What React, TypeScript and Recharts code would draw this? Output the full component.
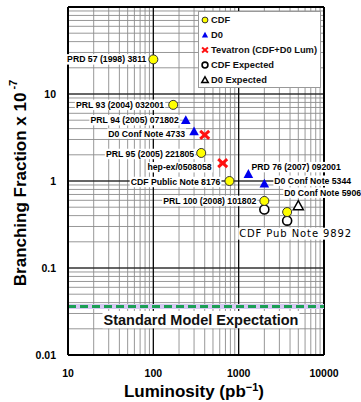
import React from "react";
import {
  ScatterChart, Scatter, XAxis, YAxis, CartesianGrid,
  ReferenceLine, Legend,
} from "recharts";

// luminosity in pb^-1, limits in units of 1e-7
const cdfLum = [100, 171, 364, 780, 2000, 3700];
const cdfLimit = [25, 7.5, 2.1, 1.0, 0.59, 0.44];
const cdfRefs = ["PRD 57 (1998) 3811", "PRL 93 (2004) 032001", "PRL 95 (2005) 221805", "CDF Public Note 8176", "PRL 100 (2008) 101802", ""];

const d0Lum = [240, 300, 1300, 2000];
const d0Limit = [5.0, 3.7, 1.2, 0.93];
const d0Refs = ["PRL 94 (2005) 071802", "D0 Conf Note 4733", "PRD 76 (2007) 092001", "D0 Conf Note 5344"];

const tevLum = [400, 650];
const tevLimit = [3.4, 1.6];
const tevRefs = ["", "hep-ex/0508058"];

const cdfExpLum = [2000, 3700];
const cdfExpLimit = [0.47, 0.35];
const cdfExpRefs = ["", "CDF Pub Note 9892"];

const d0ExpLum = [5000];
const d0ExpLimit = [0.52];
const d0ExpRefs = ["D0 Conf Note 5906"];

const smExpectation = 0.036;

const seriesNames = ["CDF", "D0", "Tevatron (CDF+D0 Lum)", "CDF Expected", "D0 Expected"];

const xDecades = [10, 100, 1000, 10000];
const xTickLabels = ["10", "100", "1000", "10000"];
const yDecades = [0.01, 0.1, 1, 10, 100];
const yTickLabels = ["0.01", "0.1", "1", "10", ""];

// label offsets from the marker: [dx, dy, anchor]
const notePlace: Record<string, [number, number, "start" | "end"]> = {
  "PRD 57 (1998) 3811": [-7, 0, "end"],
  "PRL 93 (2004) 032001": [-9, 0, "end"],
  "PRL 94 (2005) 071802": [-7, 0, "end"],
  "D0 Conf Note 4733": [-9, 2, "end"],
  "PRL 95 (2005) 221805": [-7, 1, "end"],
  "hep-ex/0508058": [-11, 4, "end"],
  "CDF Public Note 8176": [-9, 1, "end"],
  "PRD 76 (2007) 092001": [3, -7, "start"],
  "D0 Conf Note 5344": [10, -3, "start"],
  "D0 Conf Note 5906": [-14, -13, "start"],
  "PRL 100 (2008) 101802": [-8, 0, "end"],
  "CDF Pub Note 9892": [-48, 13, "start"],
};

const FONT = "'Liberation Sans', Arial, Helvetica, sans-serif";
const PLAIN_FONT = "'DejaVu Sans', Verdana, sans-serif";

let measureCtx: CanvasRenderingContext2D | null = null;
const textWidth = (text: string, font: string, spacing = 0) => {
  if (!measureCtx) measureCtx = document.createElement("canvas").getContext("2d");
  if (!measureCtx) return text.length * 5;
  measureCtx.font = font;
  return measureCtx.measureText(text).width + spacing * text.length;
};

const gridTicks = (lo: number, hi: number) => {
  const out: number[] = [];
  for (let e = lo; e < hi; e++) {
    for (let k = 1; k < 10; k++) out.push(Number((k * 10 ** e).toPrecision(3)));
  }
  out.push(10 ** hi);
  return out;
};
const xGrid = gridTicks(1, 4);
const yGrid = gridTicks(-2, 2);

const toRows = (lum: number[], lim: number[], refs: string[]) =>
  lum.map((l, i) => ({ lum: l, lim: lim[i], note: refs[i] }));

const cdfData = toRows(cdfLum, cdfLimit, cdfRefs);
const d0Data = toRows(d0Lum, d0Limit, d0Refs);
const tevData = toRows(tevLum, tevLimit, tevRefs);
const cdfExpData = toRows(cdfExpLum, cdfExpLimit, cdfExpRefs);
const d0ExpData = toRows(d0ExpLum, d0ExpLimit, d0ExpRefs);

// text with an opaque white box behind it
function BoxedText({
  x, y, text, anchor, size, weight, family, spacing = 0, fill = "#000",
}: {
  x: number; y: number; text: string; anchor: "start" | "middle" | "end";
  size: number; weight: number; family: string; spacing?: number; fill?: string;
}) {
  const w = textWidth(text, `${weight} ${size}px ${family}`, spacing);
  const left = anchor === "start" ? x : anchor === "end" ? x - w : x - w / 2;
  const h = size * 1.2;
  return (
    <g>
      <rect x={left - 1} y={y - h / 2} width={w + 2} height={h} fill="#fff" />
      <text
        x={x}
        y={y}
        textAnchor={anchor}
        dominantBaseline="central"
        style={{ fontFamily: family, fontSize: size, fontWeight: weight, letterSpacing: spacing, fill }}
      >
        {text}
      </text>
    </g>
  );
}

function Note({ cx, cy, note }: { cx: number; cy: number; note: string }) {
  if (!note) return null;
  const [dx, dy, anchor] = notePlace[note] ?? [8, 0, "start"];
  const plain = note === "CDF Pub Note 9892";
  return (
    <BoxedText
      x={cx + dx}
      y={cy + dy}
      text={note}
      anchor={anchor}
      size={plain ? 10 : 8.7}
      weight={plain ? 400 : 700}
      family={plain ? PLAIN_FONT : FONT}
      spacing={plain ? 0.9 : 0}
    />
  );
}

const marker = (kind: number, cx: number, cy: number, s = 1) => {
  if (kind === 0)
    return <circle cx={cx} cy={cy} r={4.5 * s} fill="#ffff00" stroke="#333" strokeWidth={1} />;
  if (kind === 1)
    return (
      <polygon
        points={`${cx},${cy - 5 * s} ${cx + 4.8 * s},${cy + 3.8 * s} ${cx - 4.8 * s},${cy + 3.8 * s}`}
        fill="#0000ee"
      />
    );
  if (kind === 2)
    return (
      <g stroke="#ff1010" strokeWidth={3 * s} strokeLinecap="butt">
        <line x1={cx - 4.5 * s} y1={cy - 4 * s} x2={cx + 4.5 * s} y2={cy + 4 * s} />
        <line x1={cx + 4.5 * s} y1={cy - 4 * s} x2={cx - 4.5 * s} y2={cy + 4 * s} />
      </g>
    );
  if (kind === 3)
    return <circle cx={cx} cy={cy} r={4.5 * s} fill="#fff" stroke="#000" strokeWidth={1.6} />;
  return (
    <polygon
      points={`${cx},${cy - 5 * s} ${cx + 5 * s},${cy + 4 * s} ${cx - 5 * s},${cy + 4 * s}`}
      fill="#fff"
      stroke="#000"
      strokeWidth={1.5}
    />
  );
};

const shapeFor = (kind: number) => (props: any) => {
  const { cx, cy, payload } = props;
  return (
    <g>
      {marker(kind, cx, cy)}
      <Note cx={cx} cy={cy} note={payload?.note ?? ""} />
    </g>
  );
};

const tickStyle = { fontSize: 10.5, fontWeight: 700, fill: "#000", fontFamily: FONT };

const yTitle = (props: any) => {
  const vb = props.viewBox ?? { x: 0, y: 7, width: 68, height: 348 };
  const cx = vb.x + 20;
  const cy = vb.y + vb.height / 2 + 2;
  return (
    <text
      x={cx}
      y={cy}
      transform={`rotate(-90 ${cx} ${cy})`}
      textAnchor="middle"
      dominantBaseline="central"
      style={{ fontFamily: FONT, fontSize: 17, fontWeight: 700, fill: "#000" }}
    >
      Branching Fraction x 10
      <tspan dx={3} dy={-7} style={{ fontSize: 11 }}>-7</tspan>
    </text>
  );
};

const xTitle = (props: any) => {
  const vb = props.viewBox ?? { x: 68, y: 355, width: 256, height: 47 };
  const x = vb.x + vb.width / 2 - 2;
  const y = vb.y + 42;
  return (
    <text x={x} y={y} textAnchor="middle" style={{ fontFamily: FONT, fontSize: 17, fontWeight: 700, fill: "#000" }}>
      Luminosity (pb
      <tspan dy={-6} style={{ fontSize: 11 }}>−1</tspan>
      <tspan dy={6}>)</tspan>
    </text>
  );
};

const smLabel = (props: any) => {
  const vb = props.viewBox ?? { x: 68, y: 306, width: 256 };
  return (
    <BoxedText
      x={vb.x + vb.width / 2 + 5}
      y={vb.y + 13}
      text="Standard Model Expectation"
      anchor="middle"
      size={14.5}
      weight={700}
      family={FONT}
      fill="#111"
    />
  );
};

const LegendBox = () => (
  <div
    style={{
      width: 121,
      height: 75,
      border: "1px solid #999",
      background: "#fff",
      fontFamily: FONT,
      fontSize: 9.3,
      fontWeight: 700,
      color: "#111",
      boxSizing: "content-box",
    }}
  >
    {seriesNames.map((name, i) => (
      <div key={name} style={{ height: 15, display: "flex", alignItems: "center", whiteSpace: "nowrap" }}>
        <svg width={10} height={10} style={{ marginLeft: 1 }}>
          {marker(i, 5, 5, 0.65)}
        </svg>
        <span style={{ marginLeft: 1 }}>{name}</span>
      </div>
    ))}
  </div>
);

export default function App() {
  return (
    <div style={{ position: "absolute", left: 0, top: 0, width: 361, height: 402, background: "#fff" }}>
      <ScatterChart width={361} height={402} margin={{ top: 7, right: 37, bottom: 0, left: 0 }}>
        <CartesianGrid stroke="#8c8c8c" strokeWidth={0.9} />
        <XAxis
          type="number"
          dataKey="lum"
          scale="log"
          domain={[10, 10000]}
          ticks={xGrid}
          interval={0}
          tickFormatter={(v: number) => {
            const i = xDecades.indexOf(v);
            return i >= 0 ? xTickLabels[i] : "";
          }}
          tick={tickStyle}
          tickLine={false}
          tickMargin={9}
          axisLine={{ stroke: "#000", strokeWidth: 2 }}
          height={47}
          label={xTitle}
        />
        <YAxis
          type="number"
          dataKey="lim"
          scale="log"
          domain={[0.01, 100]}
          ticks={yGrid}
          interval={0}
          tickFormatter={(v: number) => {
            const i = yDecades.indexOf(v);
            return i >= 0 ? yTickLabels[i] : "";
          }}
          tick={tickStyle}
          tickLine={false}
          tickMargin={6}
          axisLine={{ stroke: "#000", strokeWidth: 2 }}
          width={68}
          label={yTitle}
        />
        {xDecades.slice(1, 3).map((v) => (
          <ReferenceLine key={`x${v}`} x={v} stroke="#000" strokeWidth={1.2} />
        ))}
        {yDecades.slice(1, 4).map((v) => (
          <ReferenceLine key={`y${v}`} y={v} stroke="#000" strokeWidth={1.2} />
        ))}
        <ReferenceLine x={10000} stroke="#000" strokeWidth={2} />
        <ReferenceLine y={100} stroke="#000" strokeWidth={2} />
        <ReferenceLine y={smExpectation} stroke="#d6c9f2" strokeWidth={5} />
        <ReferenceLine y={smExpectation} stroke="#1c9f55" strokeWidth={3} strokeDasharray="8 4" label={smLabel} />
        <Legend
          verticalAlign="middle"
          align="center"
          content={() => <LegendBox />}
          wrapperStyle={{ left: 198, top: 11, width: 123, height: 77 }}
        />
        <Scatter name={seriesNames[3]} data={cdfExpData} shape={shapeFor(3)} isAnimationActive={false} />
        <Scatter name={seriesNames[4]} data={d0ExpData} shape={shapeFor(4)} isAnimationActive={false} />
        <Scatter name={seriesNames[0]} data={cdfData} shape={shapeFor(0)} isAnimationActive={false} />
        <Scatter name={seriesNames[1]} data={d0Data} shape={shapeFor(1)} isAnimationActive={false} />
        <Scatter name={seriesNames[2]} data={tevData} shape={shapeFor(2)} isAnimationActive={false} />
      </ScatterChart>
    </div>
  );
}
